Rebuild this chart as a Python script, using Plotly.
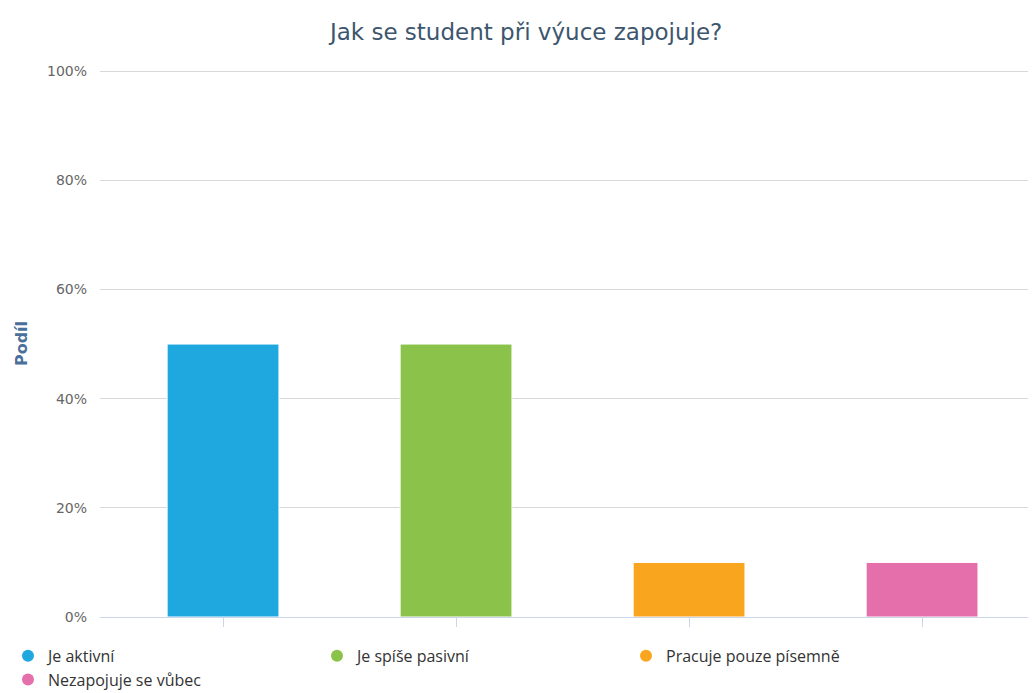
import plotly.graph_objects as go

# Data
categories = ["Je aktivní", "Je spíše pasivní", "Pracuje pouze písemně", "Nezapojuje se vůbec"]
shares = [50, 50, 10, 10]
colors = ["#1fa8e0", "#8bc34a", "#f9a61e", "#e46faa"]
y_ticks = [0, 20, 40, 60, 80, 100]
y_tick_labels = [f"{v}%" for v in y_ticks]

fig = go.Figure()

for i, (name, val, col) in enumerate(zip(categories, shares, colors)):
    # the bar itself
    fig.add_trace(go.Bar(
        x=[i],
        y=[val],
        name=name,
        marker=dict(color=col, line=dict(color="white", width=1)),
        width=0.48,
        showlegend=False,
        hovertemplate=f"<b>{name}</b><br>Podíl: %{{y}}%<extra></extra>"
    ))
    # legend entry with a round marker
    fig.add_trace(go.Scatter(
        x=[None],
        y=[None],
        mode="markers",
        name=name,
        marker=dict(color=col, size=13, symbol="circle"),
        showlegend=True
    ))

# page body has an 8px margin, so the figure is a bit smaller than the window
fig.update_layout(
    width=1028,
    height=685,
    barmode="overlay",
    plot_bgcolor="white",
    paper_bgcolor="white",
    margin=dict(l=92, r=0, t=62, b=76),
    title=dict(
        text="Jak se student při výuce zapojuje?",
        font=dict(size=23, family="DejaVu Sans, sans-serif", color="#3d566e"),
        x=0.504,
        xanchor="center",
        y=0.965,
        yanchor="middle"
    ),
    xaxis=dict(
        range=[-0.528, 3.489],
        tickvals=[0, 1, 2, 3],
        showticklabels=False,
        ticks="outside",
        ticklen=9,
        tickcolor="#ccd6eb",
        showline=True,
        linecolor="#ccd6eb",
        linewidth=1,
        showgrid=False,
        zeroline=False,
        fixedrange=True
    ),
    yaxis=dict(
        range=[0, 100.2],
        tickvals=y_ticks,
        ticktext=y_tick_labels,
        tickfont=dict(size=14, family="DejaVu Sans, sans-serif", color="#666666"),
        ticks="",
        ticklabelstandoff=12,
        showgrid=True,
        gridcolor="#d8d8d8",
        gridwidth=1,
        zeroline=False,
        title=dict(
            text="<b>Podíl</b>",
            font=dict(size=16, family="DejaVu Sans, sans-serif", color="#4a6f9a"),
            standoff=15
        ),
        fixedrange=True
    ),
    legend=dict(
        orientation="h",
        xref="container",
        yref="container",
        x=0.0,
        xanchor="left",
        y=0.079,
        yanchor="top",
        entrywidth=264,
        entrywidthmode="pixels",
        font=dict(size=16, family="Open Sans, sans-serif", color="#333333"),
        itemsizing="constant",
        tracegroupgap=0
    )
)

fig.write_html("out.html")
